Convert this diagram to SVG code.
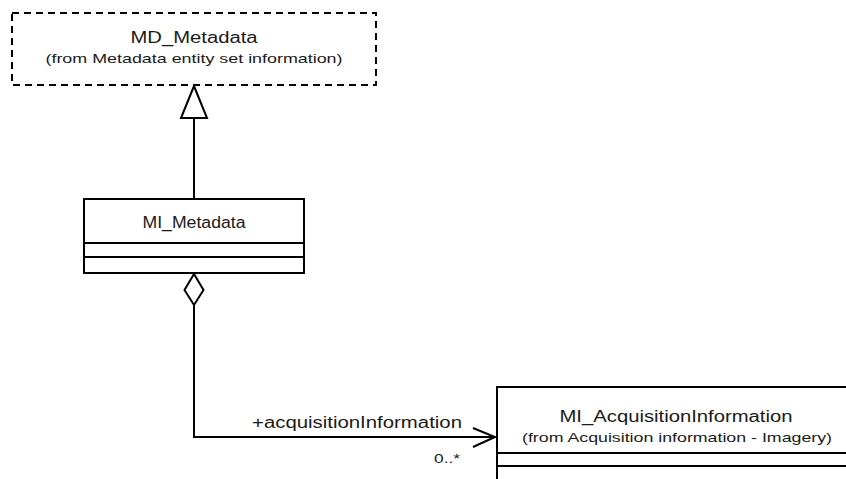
<svg xmlns="http://www.w3.org/2000/svg" width="846" height="479" viewBox="0 0 846 479">
<style>
.box{fill:#fff;stroke:#000;stroke-width:2}
.dash{fill:#fff;stroke:#000;stroke-width:2;stroke-dasharray:7 5}
.ln{fill:none;stroke:#000;stroke-width:2}
text{font-family:"Liberation Sans",Arial,sans-serif;fill:#1a1a1a}
.t{font-size:16px}
.s{font-size:13px}
.l{font-size:16px}
</style>
<rect width="846" height="479" fill="#fff"/>
<g id="MD_Metadata">
<rect class="dash" x="12" y="13" width="364" height="72"/>
<text class="t" x="194" y="43" text-anchor="middle" textLength="127" lengthAdjust="spacingAndGlyphs">MD_Metadata</text>
<text class="s" x="194" y="63" text-anchor="middle" textLength="297" lengthAdjust="spacingAndGlyphs">(from Metadata entity set information)</text>
</g>
<g id="MI_Metadata">
<rect class="box" x="84" y="199" width="220" height="74"/>
<line class="ln" x1="84" y1="243" x2="304" y2="243"/>
<line class="ln" x1="84" y1="257" x2="304" y2="257"/>
<text class="t" x="194" y="228" text-anchor="middle" textLength="103" lengthAdjust="spacingAndGlyphs">MI_Metadata</text>
</g>
<g id="MI_AcquisitionInformation">
<rect class="box" x="497" y="387" width="360" height="100"/>
<line class="ln" x1="497" y1="453" x2="846" y2="453"/>
<line class="ln" x1="497" y1="466" x2="846" y2="466"/>
<text class="t" x="676" y="422" text-anchor="middle" textLength="233" lengthAdjust="spacingAndGlyphs">MI_AcquisitionInformation</text>
<text class="s" x="677" y="442" text-anchor="middle" textLength="310" lengthAdjust="spacingAndGlyphs">(from Acquisition information - Imagery)</text>
</g>
<g id="connectors">
<line class="ln" x1="194" y1="118" x2="194" y2="199"/>
<polygon class="box" points="194,86 181,118 207,118"/>
<polyline class="ln" points="194,305 194,437 495,437"/>
<polygon class="box" points="194,274 203.5,290 194,305 184.5,290"/>
<polyline class="ln" points="473,428 495,437 473,447"/>
<text class="l" x="252" y="428" textLength="210" lengthAdjust="spacingAndGlyphs">+acquisitionInformation</text>
<text class="s" x="434" y="463" textLength="26" lengthAdjust="spacingAndGlyphs">0..*</text>
</g>
</svg>
